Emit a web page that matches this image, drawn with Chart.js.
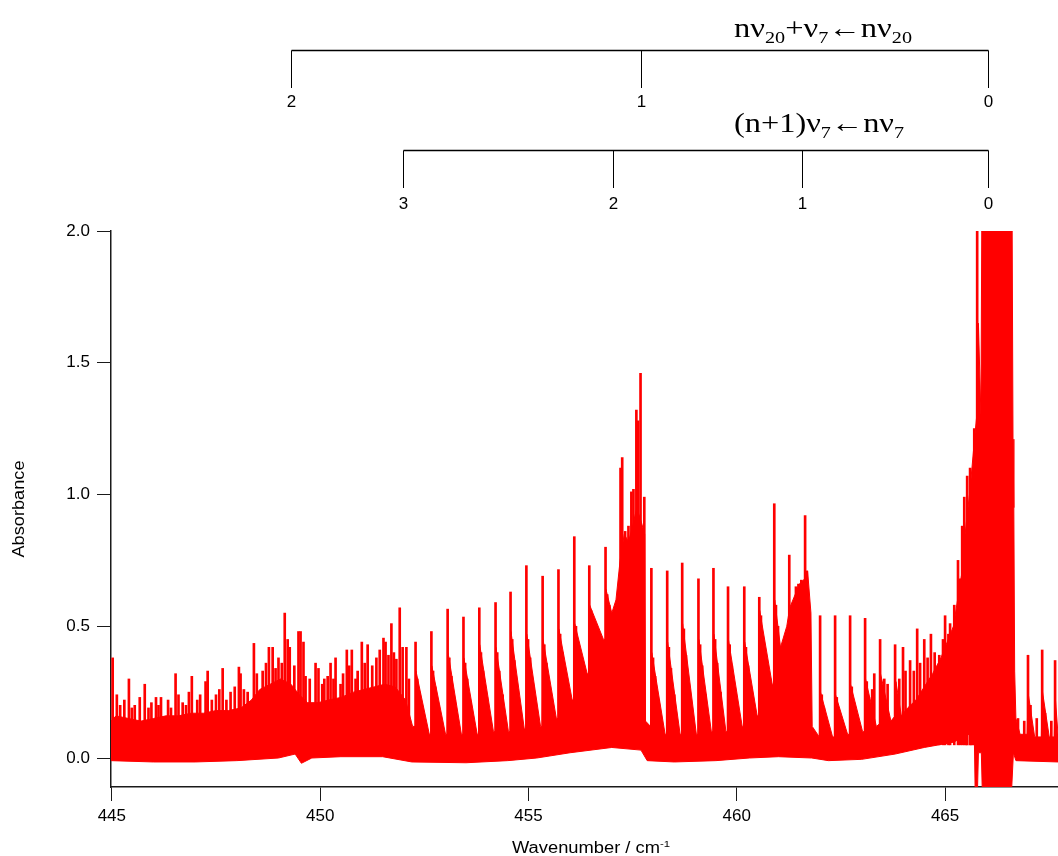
<!DOCTYPE html>
<html><head><meta charset="utf-8">
<script src="https://cdn.jsdelivr.net/npm/chart.js@4.4.1/dist/chart.umd.min.js"></script>
<style>html,body{margin:0;padding:0;background:#fff;}canvas{display:block;}</style>
</head><body>
<canvas id="c" width="1058" height="856"></canvas>
<script>
// ---- axis ticks ----
const xTicks = [445, 450, 455, 460, 465];
const yTicks = [0.0, 0.5, 1.0, 1.5, 2.0];

// ---- spectrum: dense band top (upper envelope) ----
const upperX = [444.98,445.10,445.40,445.70,446.00,446.30,446.60,446.90,447.20,447.50,447.80,448.10,448.35,448.55,448.80,449.05,449.30,449.50,449.70,449.95,450.20,450.50,450.80,451.05,451.30,451.55,451.80,452.05,452.22,
452.28,452.30,452.62,452.66,452.68,453.01,453.05,453.07,453.39,453.43,453.45,453.77,453.81,453.83,454.16,454.20,454.22,454.52,454.56,454.58,454.90,454.94,454.96,455.29,455.33,455.35,455.67,455.71,455.73,456.05,456.09,456.11,456.41,456.45,456.47,456.80,456.84,456.86,457.00,
457.10,457.20,457.30,457.40,457.50,457.60,457.70,457.79,457.81,
457.93,457.96,458.28,458.32,458.34,458.64,458.68,458.70,459.03,459.07,459.09,459.39,459.43,459.45,459.74,459.78,459.80,460.13,460.17,460.19,460.49,460.53,460.55,460.85,460.89,460.91,461.05,461.20,461.27,461.40,461.50,461.63,461.70,461.78,461.81,
461.98,462.01,462.30,462.35,462.37,462.66,462.71,462.73,463.02,463.07,463.09,463.35,463.43,463.45,463.70,463.80,463.82,463.95,464.10,464.30,464.50,464.70,464.90,465.05,465.20,465.30,465.40,465.50,465.60,465.70,465.76,465.80,465.86,465.88,466.61,466.63,466.65,466.67,466.70,466.80,
466.97,466.99,467.15,467.31,467.33,467.50,467.62,467.64,467.71];
const upperY = [0.14,0.16,0.15,0.14,0.15,0.16,0.16,0.17,0.17,0.18,0.18,0.19,0.22,0.26,0.28,0.30,0.28,0.24,0.21,0.21,0.22,0.23,0.25,0.26,0.27,0.28,0.27,0.22,0.12,
0.12,0.33,0.09,0.09,0.35,0.09,0.09,0.40,0.09,0.09,0.38,0.09,0.09,0.43,0.10,0.10,0.42,0.10,0.10,0.48,0.11,0.11,0.47,0.12,0.12,0.45,0.15,0.15,0.49,0.22,0.22,0.51,0.32,0.32,0.58,0.45,0.45,0.64,0.55,
0.60,0.75,0.85,0.82,0.88,0.95,0.90,0.85,0.14,
0.12,0.40,0.09,0.09,0.44,0.09,0.09,0.51,0.09,0.09,0.45,0.10,0.10,0.47,0.10,0.10,0.45,0.12,0.12,0.44,0.16,0.16,0.56,0.28,0.28,0.60,0.42,0.50,0.57,0.62,0.66,0.68,0.71,0.55,0.12,
0.08,0.25,0.08,0.08,0.24,0.09,0.09,0.28,0.10,0.10,0.30,0.12,0.13,0.32,0.14,0.16,0.29,0.16,0.19,0.22,0.27,0.32,0.38,0.44,0.50,0.60,0.70,0.88,1.02,1.20,1.30,1.65,1.30,2.00,2.00,1.21,0.95,0.33,0.15,0.09,
0.09,0.25,0.08,0.08,0.26,0.08,0.08,0.24,0.09];

// ---- spectrum: band bottom (lower envelope) ----
const lowerX = [444.98,446.0,447.0,448.0,449.0,449.40,449.55,449.80,450.5,451.5,452.2,453.5,454.5,455.2,456.0,457.0,457.7,457.85,458.5,459.5,460.3,461.0,461.8,462.2,463.0,463.8,464.5,465.2,465.70,465.72,465.78,465.80,465.87,465.89,466.60,466.64,466.70,467.71];
const lowerY = [-0.01,-0.015,-0.015,-0.01,0.0,0.015,-0.02,0.0,0.005,0.005,-0.015,-0.018,-0.01,0.0,0.02,0.04,0.03,-0.01,-0.015,-0.01,0.0,0.005,0.0,-0.01,-0.005,0.015,0.04,0.06,0.10,-0.11,-0.11,0.02,0.02,-0.11,-0.11,0.02,-0.01,-0.015];

// ---- spectrum: strong sharp lines ----
const spikeX = [445.02,445.12,445.30,445.41,445.55,445.67,445.79,445.95,446.06,446.18,446.35,446.53,446.70,446.85,446.92,447.05,447.25,447.30,447.50,447.66,447.85,448.05,448.09,448.26,448.41,448.77,448.86,448.93,449.15,449.22,449.27,449.48,449.53,449.60,449.65,449.89,449.96,450.10,450.25,450.37,450.49,450.64,450.76,450.90,451.00,451.14,451.35,451.52,451.57,451.64,451.71,451.83,451.91,451.98,452.07,
452.29,452.67,453.06,453.44,453.82,454.21,454.57,454.95,455.34,455.72,456.10,456.46,456.85,
457.21,457.25,457.32,457.40,457.47,457.52,457.59,457.63,457.69,457.78,
457.95,458.33,458.69,459.08,459.44,459.79,460.18,460.54,460.80,460.90,461.26,461.42,461.48,461.55,461.64,461.68,
462.00,462.36,462.72,463.08,463.30,463.44,463.54,463.80,463.99,464.16,464.33,464.50,464.66,464.86,465.00,465.12,465.31,465.41,465.46,465.53,465.60,465.70,465.77,
466.99,467.33,467.64];
const spikeY = [0.38,0.24,0.22,0.30,0.20,0.23,0.28,0.21,0.23,0.23,0.22,0.32,0.21,0.25,0.31,0.22,0.29,0.33,0.24,0.34,0.25,0.345,0.32,0.25,0.435,0.42,0.42,0.34,0.55,0.45,0.42,0.48,0.48,0.44,0.31,0.36,0.34,0.30,0.36,0.38,0.28,0.41,0.41,0.33,0.44,0.43,0.38,0.455,0.44,0.39,0.51,0.375,0.57,0.42,0.42,
0.44,0.48,0.565,0.535,0.57,0.59,0.63,0.73,0.69,0.715,0.84,0.73,0.80,
1.10,1.14,0.86,0.88,1.01,1.02,1.32,1.28,1.46,0.99,
0.72,0.71,0.74,0.68,0.72,0.65,0.65,0.61,0.30,0.965,0.77,0.65,0.66,0.675,0.92,0.71,
0.54,0.54,0.54,0.53,0.32,0.45,0.30,0.43,0.42,0.37,0.49,0.45,0.47,0.39,0.54,0.51,0.75,0.88,0.99,1.07,1.10,1.25,2.00,
0.39,0.41,0.37];

// ---- spectrum: lines in the decaying tails of each cluster ----
const tailX = [452.33,452.38,452.45,452.71,452.76,452.84,453.10,453.15,453.23,453.48,453.53,453.61,453.86,453.91,454.00,454.25,454.30,454.38,454.61,454.66,454.74,454.99,455.04,455.12,455.38,455.43,455.51,455.76,455.81,455.89,456.14,456.19,456.27,456.50,456.55,456.63,456.89,456.94,
457.99,458.04,458.12,458.37,458.42,458.50,458.73,458.78,458.86,459.12,459.17,459.25,459.48,459.53,459.61,459.83,459.88,459.96,460.22,460.27,460.35,460.58,460.63,460.71,460.94,460.99,
462.04,462.09,462.40,462.45,462.76,462.81,463.12,463.17];
const tailY = [0.30,0.25,0.19,0.33,0.27,0.20,0.38,0.31,0.22,0.36,0.30,0.21,0.40,0.33,0.23,0.40,0.33,0.24,0.45,0.37,0.26,0.45,0.38,0.27,0.43,0.36,0.26,0.47,0.40,0.31,0.50,0.44,0.37,0.56,0.49,0.42,0.62,0.58,
0.38,0.31,0.22,0.42,0.34,0.24,0.49,0.39,0.26,0.43,0.35,0.24,0.45,0.36,0.25,0.43,0.35,0.25,0.42,0.35,0.26,0.54,0.45,0.33,0.58,0.50,
0.24,0.19,0.23,0.18,0.27,0.21,0.29,0.23];

// ---- spectrum: weaker lines on top of the dense band ----
const minorX = [445.20,445.48,445.88,446.12,446.42,446.60,446.78,447.12,447.40,447.58,447.75,447.95,448.17,448.48,448.62,448.70,449.00,449.08,449.38,449.75,450.05,450.18,450.32,450.55,450.70,450.85,451.07,451.25,451.43,451.77,452.13,
463.25,463.62,463.90,464.05,464.25,464.40,464.58,464.75,464.95,465.08,465.22,465.36,465.50,465.64,
466.75,466.90,467.05,467.20,467.40,467.55];
const minorY = [0.20,0.19,0.19,0.20,0.19,0.24,0.20,0.24,0.22,0.26,0.22,0.27,0.26,0.32,0.33,0.36,0.38,0.36,0.35,0.30,0.28,0.31,0.30,0.32,0.35,0.30,0.36,0.35,0.41,0.40,0.30,
0.26,0.28,0.30,0.33,0.33,0.36,0.38,0.40,0.45,0.47,0.58,0.68,0.85,1.05,
0.15,0.14,0.20,0.15,0.17,0.14];
const lineBase = 0.05;

// ---- progression brackets ----
const prog1Pos = [449.29, 457.71, 466.03];
const prog1Lab = ['2', '1', '0'];
const prog2Pos = [451.98, 457.04, 461.57, 466.03];
const prog2Lab = ['3', '2', '1', '0'];
const title1 = [['nν',0],['20',1],['+ν',0],['7',1],['←nν',0],['20',1]];
const title2 = [['(n+1)ν',0],['7',1],['←nν',0],['7',1]];
const xTitle = [['Wavenumber / cm',0],['-1',2]];
const yTitle = 'Absorbance';

const RED = '#ff0000';
const INK = '#1a1a1a';
const SANS = '"Liberation Sans", Arial, Helvetica, sans-serif';
const SERIF = '"Liberation Serif", "Times New Roman", serif';

function richWidth(ctx, parts, size, fam) {
  let w = 0;
  for (const [t, k] of parts) { ctx.font = (k ? size * 0.62 : size) + 'px ' + fam; w += ctx.measureText(t).width; }
  return w;
}
function drawRich(ctx, parts, x, y, size, fam, targetW, align) {
  const w = richWidth(ctx, parts, size, fam);
  const sx = targetW ? targetW / w : 1;
  ctx.save();
  ctx.translate(x, y);
  ctx.scale(sx, 1);
  let cx = align === 'center' ? -w / 2 : 0;
  ctx.textAlign = 'left';
  ctx.textBaseline = 'alphabetic';
  for (const [t, k] of parts) {
    const s = k ? size * 0.62 : size;
    ctx.font = s + 'px ' + fam;
    const dy = k === 1 ? size * 0.22 : (k === 2 ? -size * 0.38 : 0);
    ctx.fillText(t, cx, dy);
    cx += ctx.measureText(t).width;
  }
  ctx.restore();
}

const annot = {
  id: 'annot',
  afterDraw(chart) {
    const ctx = chart.ctx, xs = chart.scales.x, ca = chart.chartArea;
    ctx.save();
    ctx.fillStyle = '#000';
    ctx.strokeStyle = '#000';
    function bracket(pos, labs, yLine, yTick, yLab) {
      const px = pos.map(v => Math.round(xs.getPixelForValue(v)) + 0.5);
      ctx.lineWidth = 1.5;
      ctx.beginPath(); ctx.moveTo(px[0], yLine); ctx.lineTo(px[px.length - 1], yLine); ctx.stroke();
      ctx.lineWidth = 1;
      ctx.beginPath();
      px.forEach(p => { ctx.moveTo(p, yLine); ctx.lineTo(p, yTick); });
      ctx.stroke();
      ctx.font = '17px ' + SANS; ctx.textAlign = 'center'; ctx.textBaseline = 'middle';
      px.forEach((p, i) => ctx.fillText(labs[i], p, yLab));
    }
    bracket(prog1Pos, prog1Lab, 50.5, 88, 102);
    bracket(prog2Pos, prog2Lab, 150.5, 188, 204);
    drawRich(ctx, title1, 734, 37, 27, SERIF, 178, 'left');
    drawRich(ctx, title2, 734, 132, 27, SERIF, 170, 'left');
    // axis titles
    drawRich(ctx, xTitle, 591, 853, 16, SANS, 158, 'center');
    ctx.save();
    ctx.translate(24, (ca.top + ca.bottom) / 2);
    ctx.rotate(-Math.PI / 2);
    ctx.font = '16px ' + SANS;
    const w = ctx.measureText(yTitle).width;
    ctx.scale(97 / w, 1);
    ctx.textAlign = 'center'; ctx.textBaseline = 'alphabetic';
    ctx.fillText(yTitle, 0, 0);
    ctx.restore();
    ctx.restore();
  }
};

const lineXs = spikeX.concat(tailX, minorX);
const lineYs = spikeY.concat(tailY, minorY);

new Chart(document.getElementById('c'), {
  type: 'bar',
  data: {
    datasets: [
      { type: 'line', data: upperX.map((x, i) => ({x, y: upperY[i]})), borderColor: RED, backgroundColor: RED,
        borderWidth: 1, pointRadius: 0, tension: 0, fill: '+1', order: 2 },
      { type: 'line', data: lowerX.map((x, i) => ({x, y: lowerY[i]})), borderColor: RED, backgroundColor: RED,
        borderWidth: 1, pointRadius: 0, tension: 0, fill: false, order: 2 },
      { type: 'bar', data: lineXs.map((x, i) => ({x, y: [lineBase, lineYs[i]]})), backgroundColor: RED, borderWidth: 0,
        barThickness: 2, grouped: false, order: 1 }
    ]
  },
  options: {
    responsive: false, animation: false, devicePixelRatio: 1,
    layout: { padding: { top: 231, left: 0, right: 0, bottom: 0 } },
    plugins: { legend: { display: false }, tooltip: { enabled: false } },
    scales: {
      x: {
        type: 'linear', min: 444.98, max: 467.71, offset: false,
        afterFit: s => { s.height = 69; },
        afterBuildTicks: s => { s.ticks = xTicks.map(v => ({value: v})); },
        grid: { display: true, drawOnChartArea: false, drawTicks: true, tickLength: 14, color: INK, tickColor: INK, offset: false },
        border: { display: true, color: INK, width: 1.5 },
        ticks: { color: '#000', font: { family: SANS, size: 17 }, padding: 5, maxRotation: 0, callback: v => String(v) }
      },
      y: {
        type: 'linear', min: -0.11, max: 2.0,
        afterFit: s => { s.width = 111; },
        afterBuildTicks: s => { s.ticks = yTicks.map(v => ({value: v})); },
        grid: { display: true, drawOnChartArea: false, drawTicks: true, tickLength: 14, color: INK, tickColor: INK },
        border: { display: true, color: INK, width: 1.5 },
        ticks: { color: '#000', font: { family: SANS, size: 17 }, padding: 7, callback: v => Number(v).toFixed(1) }
      }
    }
  },
  plugins: [annot]
});
</script>
</body></html>
